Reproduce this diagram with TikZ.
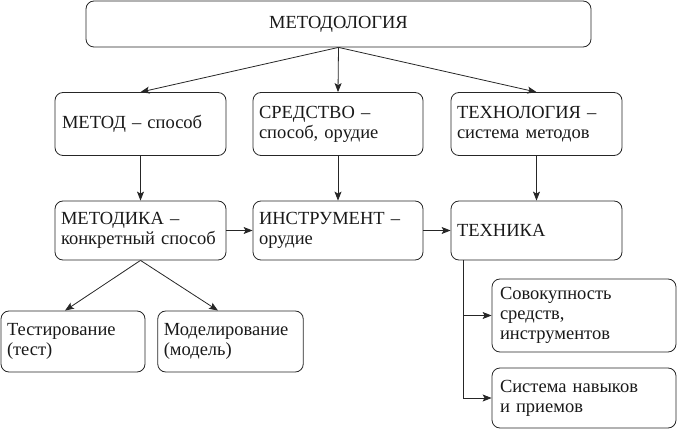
\documentclass[tikz,border=0pt]{standalone}
\usepackage{fontspec}
\setmainfont{Liberation Serif}
\usetikzlibrary{arrows.meta}
\begin{document}
\begin{tikzpicture}[x=1pt,y=-1pt,
  box/.style={draw=black!85, rounded corners=8pt, line width=0.8pt, inner sep=0pt,
    font=\fontsize{18.5}{20}\selectfont, align=left, text=black!90},
  arr/.style={draw=black!85, line width=0.8pt, -{Stealth[length=9pt,width=7pt,inset=2pt]}}]
\useasboundingbox (0,0) rectangle (677,430);
\node[box, align=center, minimum width=505pt, minimum height=46pt] (meth) at (338.5,24) {МЕТОДОЛОГИЯ};
\node[box, minimum width=171pt, minimum height=63pt, text width=157pt] (metod) at (140.5,124) {МЕТОД – способ};
\node[box, minimum width=170pt, minimum height=63pt, text width=158pt] (sred) at (338,124) {СРЕДСТВО –\\способ, орудие};
\node[box, minimum width=171pt, minimum height=63pt, text width=159pt] (techn) at (536.5,124) {ТЕХНОЛОГИЯ –\\система методов};
\node[box, minimum width=171pt, minimum height=59pt, text width=159pt] (metodika) at (140.5,230.5) {МЕТОДИКА –\\конкретный способ};
\node[box, minimum width=170pt, minimum height=59pt, text width=158pt] (instr) at (338,230.5) {ИНСТРУМЕНТ –\\орудие};
\node[box, minimum width=171pt, minimum height=59pt, text width=159pt] (tech) at (536.5,230.5) {ТЕХНИКА};
\node[box, minimum width=144pt, minimum height=61pt, text width=132pt] (test) at (73,341.5) {Тестирование\\(тест)};
\node[box, minimum width=145.5pt, minimum height=61pt, text width=133.5pt] (model) at (230.5,341.5) {Моделирование\\(модель)};
\node[box, minimum width=184pt, minimum height=73pt, text width=168pt] (sov) at (584,315.5) {Совокупность\\средств,\\инструментов};
\node[box, minimum width=184pt, minimum height=60pt, text width=168pt] (sys) at (584,398) {Система навыков\\и приемов};
\draw[arr] (meth.south) -- (metod.north);
\draw[arr] (meth.south) -- (sred.north);
\draw[arr] (meth.south) -- (techn.north);
\draw[arr] (metod) -- (metodika);
\draw[arr] (sred) -- (instr);
\draw[arr] (techn) -- (tech);
\draw[arr] (metodika) -- (instr);
\draw[arr] (instr) -- (tech);
\draw[arr] (metodika.south) -- ([xshift=-8pt]test.north);
\draw[arr] (metodika.south) -- ([xshift=-12.5pt]model.north);
\coordinate (tb) at ([xshift=12.5pt]tech.south west);
\draw[arr] (tb) |- (sov.west);
\draw[arr] (tb) |- (sys.west);
\end{tikzpicture}
\end{document}
